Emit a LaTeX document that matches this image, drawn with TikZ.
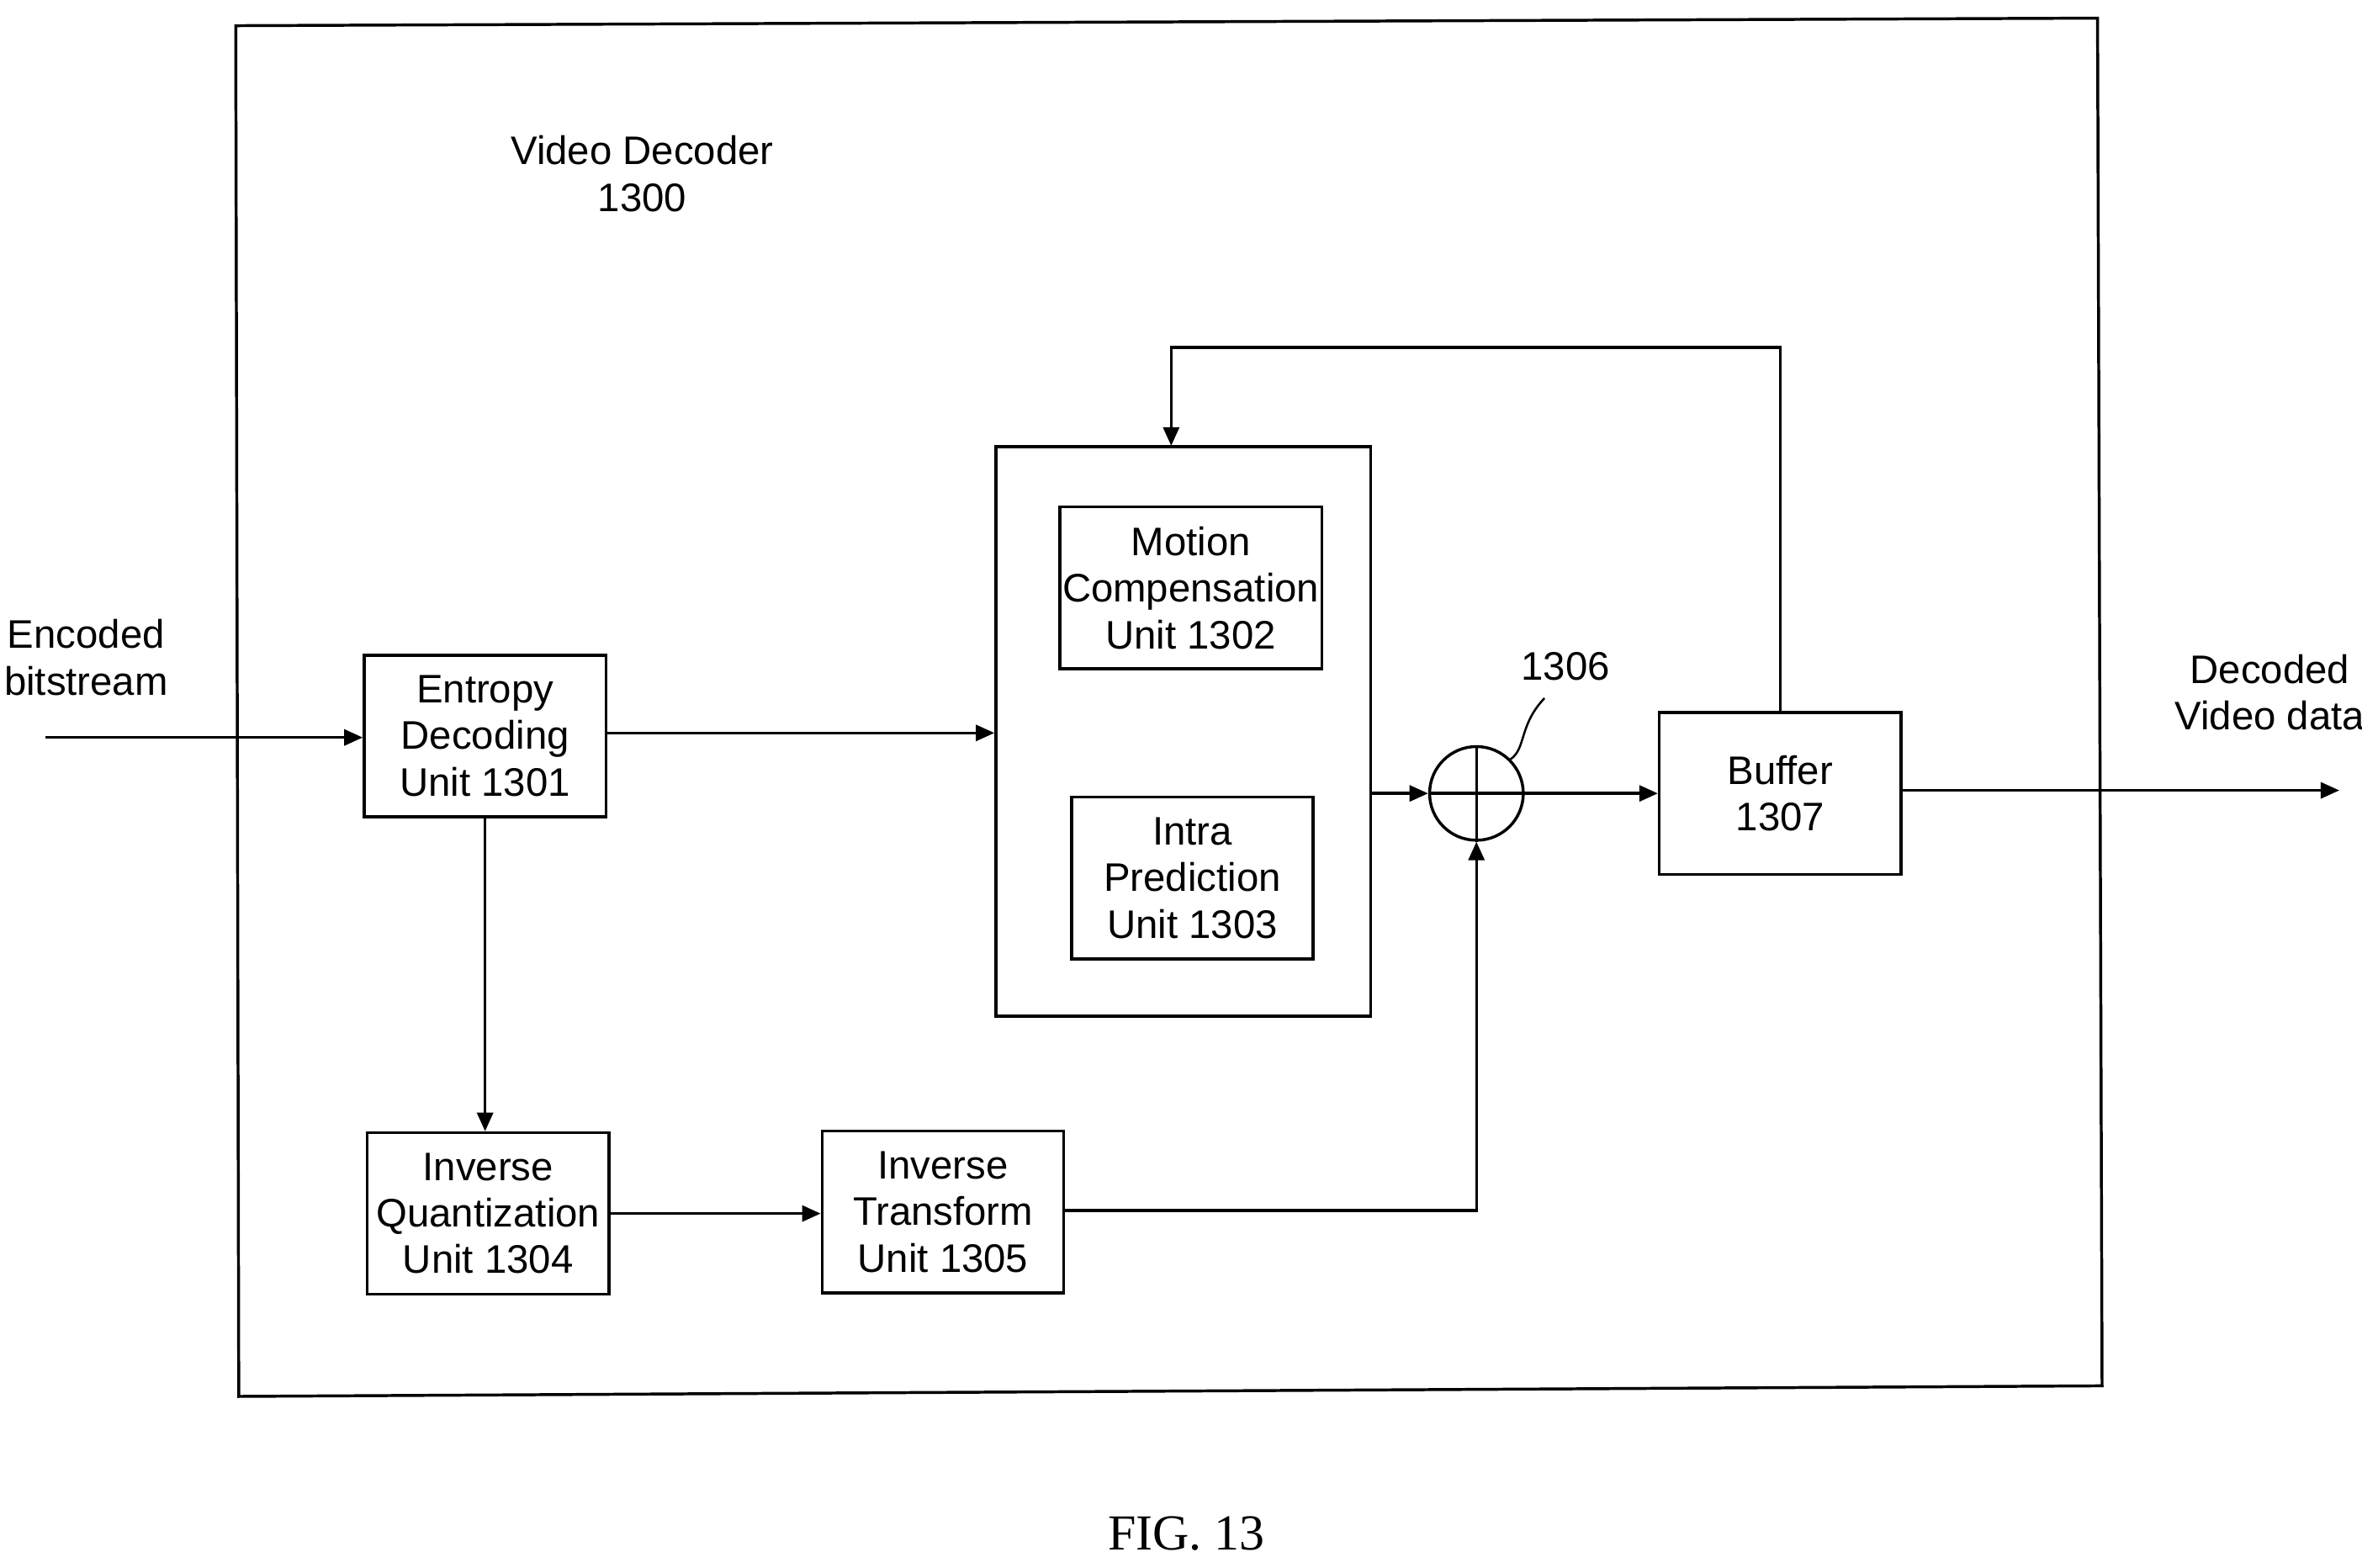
\documentclass[tikz,border=0pt]{standalone}
\usepackage{fontspec}
\setmainfont{Liberation Sans}
\newfontfamily\seriffont{Liberation Serif}
\usetikzlibrary{arrows.meta}
\begin{document}
\begin{tikzpicture}[x=0.02cm,y=-0.02cm,line width=1.1pt,
  box/.style={draw,minimum width=3.2cm,minimum height=2.14cm,align=center,inner sep=1pt},
  lbl/.style={align=center,font=\fontsize{15}{17.5}\selectfont},
  arr/.style={-{Triangle[length=7pt,width=6pt]}}]
\useasboundingbox (0,0) rectangle (1563,1037);
\draw (156,17) -- (1388,12) -- (1391,917) -- (158,924) -- cycle;
\node[lbl] (title) at (425,115) {Video Decoder\\1300};
\node[box,lbl] (ent) at (321,487) {Entropy\\Decoding\\Unit 1301};
\node[draw,minimum width=4.96cm,minimum height=7.54cm] (pred) at (783,484) {};
\node[box,lbl] (mc) at (788,389) {Motion\\Compensation\\Unit 1302};
\node[box,lbl] (ip) at (789,581) {Intra\\Prediction\\Unit 1303};
\node[draw,circle,minimum size=1.24cm,inner sep=0pt] (sum) at (977,525) {};
\draw (sum.north) -- (sum.south) (sum.west) -- (sum.east);
\node[box,lbl] (buf) at (1178,525) {Buffer\\1307};
\node[box,lbl] (iq) at (323,803) {Inverse\\Quantization\\Unit 1304};
\node[box,lbl] (it) at (624,802) {Inverse\\Transform\\Unit 1305};
\node[lbl] (enc) at (57,435) {Encoded\\bitstream};
\node[lbl] (dec) at (1502,458) {Decoded\\Video data};
\node[lbl] (n1306) at (1036,441) {1306};
\node[font=\seriffont\fontsize{19}{22}\selectfont] (fig) at (785,1015) {FIG. 13};
\coordinate (in) at (30,488);
\coordinate (out) at (1548,523);
\draw[arr] (in) -- (ent.west |- in);
\draw[arr] (ent.east |- 0,485) -- (pred.west |- 0,485);
\draw[arr] (ent.south) -- (ent.south |- iq.north);
\draw[arr] (iq.east) -- (it.west |- iq.east);
\draw[arr] (it.east |- 0,801) -| (sum.south);
\draw[arr] (pred.east |- sum) -- (sum.west);
\draw[arr] (sum.east) -- (buf.west);
\draw[arr] (buf.north) |- (775,230) -- (775,295);
\draw[arr] (buf.east |- out) -- (out);
\draw[line width=0.8pt] (sum.45) .. controls (1010,495) and (1005,480) .. (1022,462);
\end{tikzpicture}
\end{document}
